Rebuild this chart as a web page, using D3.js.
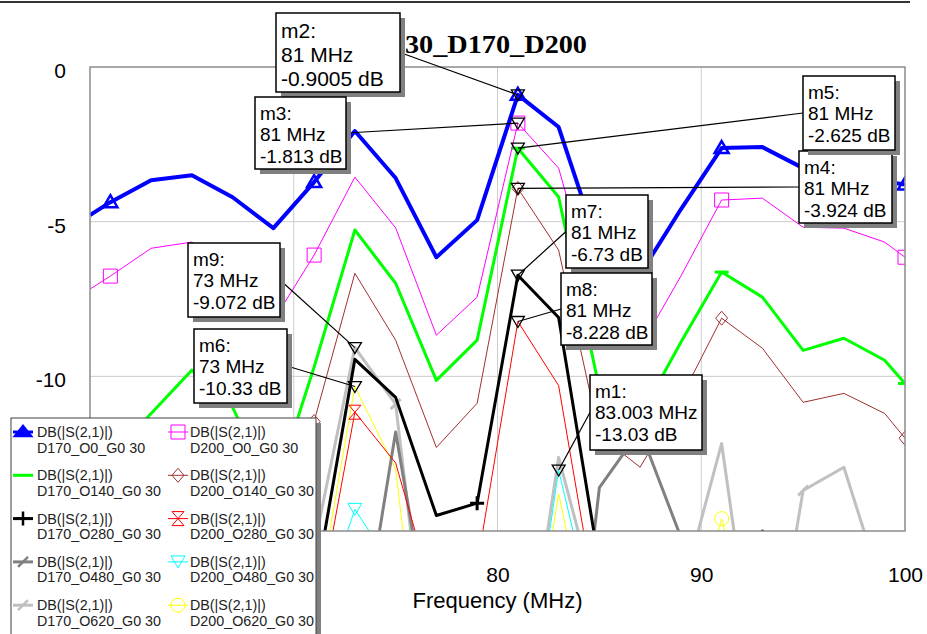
<!DOCTYPE html>
<html>
<head>
<meta charset="utf-8">
<script src="https://cdn.jsdelivr.net/npm/d3@7"></script>
<style>
  body { margin: 0; background: #fff; }
  text { font-family: "Liberation Sans", Arial, sans-serif; }
</style>
</head>
<body>
<svg width="927" height="634"></svg>
<script>
// sweep points (MHz), edge points at 60 and 100 read where the traces meet the frame
const freqs = [60, 61, 63, 65, 67, 69, 71, 73, 75, 77, 79, 81, 83, 85, 87, 89, 91, 93, 95, 97, 99, 100];

const d170_o0   = [-4.79, -4.37, -3.66, -3.50, -4.21, -5.21, -3.72, -2.07, -3.59, -6.15, -4.95, -0.90, -1.94, -5.9, -6.7, -4.6, -2.62, -2.59, -3.27, -3.45, -3.7, -3.8];
const d200_o0   = [-7.18, -6.76, -5.86, -5.66, -6.6, -8.2, -6.08, -3.56, -5.2, -8.67, -7.44, -1.813, -3.27, -7.9, -9.06, -6.76, -4.30, -4.24, -5.18, -5.21, -5.66, -6.15];
const d170_o140 = [-13.0, -12.6, -11.2, -9.8, -11.0, -13.8, -9.7, -5.27, -6.99, -10.13, -8.83, -2.625, -4.2, -10.4, -11.3, -8.9, -6.63, -7.44, -9.16, -8.77, -9.48, -10.23];
const d200_o140 = [-13.2, -13.0, -12.5, -12.0, -12.5, -13.5, -11.46, -6.67, -8.83, -12.3, -10.87, -3.924, -5.92, -11.9, -12.94, -10.7, -8.12, -9.09, -10.84, -10.55, -11.2, -12.0];
const d170_o280 = [-16.0, -15.5, -14.0, -13.5, -14.5, -16.0, -17.0, -9.45, -10.68, -14.5, -14.1, -6.73, -8.1, -16.1, -17.0, -17.5, -16.5, -15.0, -16.5, -17.0, -17.0, -17.2];
const d200_o280 = [-16.0, -16.0, -15.5, -14.5, -15.0, -16.0, -18.3, -11.16, -12.8, -17.4, -16.1, -8.228, -10.3, -18.0, -17.0, -17.5, -18.0, -17.5, -18.5, -18.0, -18.5, -18.6];
const d170_o480 = [-17.0, -17.5, -16.0, -15.5, -17.0, -18.0, -17.5, -19.9, -11.8, -19.5, -20.5, -21.0, -25.0, -13.6, -11.75, -15.2, -18.0, -19.0, -18.5, -18.0, -19.5, -19.6];
const d200_o480 = [-18.0, -18.5, -17.0, -16.5, -17.5, -19.0, -18.2, -14.3, -16.3, -19.0, -20.0, -22.0, -13.03, -18.6, -19.5, -18.0, -19.0, -20.0, -18.5, -19.0, -20.0, -20.2];
const d170_o620 = [-17.5, -17.0, -16.5, -16.0, -17.0, -18.5, -15.5, -9.07, -10.9, -22.0, -20.0, -21.4, -12.62, -17.6, -20.0, -17.1, -12.17, -21.5, -13.69, -12.94, -17.1, -19.0];
const d200_o620 = [-18.5, -18.0, -17.5, -17.0, -18.0, -19.0, -17.9, -10.33, -13.0, -24.0, -22.0, -22.0, -13.8, -19.9, -21.0, -20.0, -14.6, -20.0, -21.0, -20.5, -21.0, -21.2];

const traceNames = ["D170_O0_G0 30", "D200_O0_G0 30", "D170_O140_G0 30", "D200_O140_G0 30",
  "D170_O280_G0 30", "D200_O280_G0 30", "D170_O480_G0 30", "D200_O480_G0 30",
  "D170_O620_G0 30", "D200_O620_G0 30"];
const traceValues = [d170_o0, d200_o0, d170_o140, d200_o140, d170_o280, d200_o280, d170_o480, d200_o480, d170_o620, d200_o620];

// grid lines and the tick labels that are not covered by the legend
const xGrid = [70, 80, 90];
const yGrid = [-5, -10];
const xTickLabels = [80, 90, 100];
const yTickLabels = [0, -5, -10];

const markerNames  = ["m1", "m2", "m3", "m4", "m5", "m6", "m7", "m8", "m9"];
const markerFreqs  = [83.003, 81, 81, 81, 81, 73, 81, 81, 73];
const markerValues = [-13.03, -0.9005, -1.813, -3.924, -2.625, -10.33, -6.73, -8.228, -9.072];
const markerFreqText = ["83.003 MHz", "81 MHz", "81 MHz", "81 MHz", "81 MHz", "73 MHz", "81 MHz", "81 MHz", "73 MHz"];

// look of each trace
const styles = [
  {color: "#0000ff", width: 4, sym: "triUp",     symAt: [61, 71, 81, 91, 100], symW: 2.5},
  {color: "#ff00ff", width: 1, sym: "square",    symAt: [61, 71, 81, 91, 100], symW: 1},
  {color: "#00ff00", width: 3, sym: "dash",      symAt: [81, 91, 100],         symW: 3},
  {color: "#a03030", width: 1, sym: "diamond",   symAt: [61, 71, 81, 91, 100], symW: 1},
  {color: "#000000", width: 3, sym: "plus",      symAt: [69, 79, 89, 99],      symW: 3},
  {color: "#ff0000", width: 1, sym: "hourglass", symAt: [63, 73],              symW: 1},
  {color: "#808080", width: 3, sym: "slash",     symAt: [67, 77, 87, 97],      symW: 3},
  {color: "#00ffff", width: 1, sym: "triDown",   symAt: [63, 73],              symW: 1},
  {color: "#c0c0c0", width: 3, sym: "slash",     symAt: [65, 75, 85, 95],      symW: 3},
  {color: "#ffff00", width: 1, sym: "circle",    symAt: [61, 71, 81, 91],      symW: 1}
];

// marker box layout: x, y, w, h, font size, leader side
const boxes = {
  m1: [590, 375, 112, 75, 19, "left"],
  m2: [276, 13, 124, 79, 21, "right"],
  m3: [255, 97, 91, 72, 19, "right"],
  m4: [799, 151, 93, 72, 19, "left"],
  m5: [803, 76, 92, 74, 19, "left"],
  m6: [194, 329, 93, 74, 19, "right"],
  m7: [566, 195, 82, 73, 19, "left"],
  m8: [561, 273, 91, 72, 19, "left"],
  m9: [188, 243, 92, 74, 19, "right"]
};

const symPaths = {
  triUp: "M0,-7L7,5L-7,5Z",
  triDown: "M-7,-6L7,-6L0,6Z",
  square: "M-7,-7h14v14h-14Z",
  diamond: "M0,-7L6,0L0,7L-6,0Z",
  plus: "M-7,0H7M0,-7V7",
  hourglass: "M-6,-7L6,-7L-6,7L6,7Z",
  slash: "M-5,5L5,-5",
  circle: "M-7,0A7,7 0 1,0 7,0A7,7 0 1,0 -7,0",
  dash: "M-7,0H7"
};

const svg = d3.select("svg");
const plot = {left: 90, right: 905, top: 67, bottom: 531};

const x = d3.scaleLinear().domain([60, 100]).range([plot.left, plot.right]);
const y = d3.scaleLinear().domain([-15, 0]).range([plot.bottom, plot.top]);

// window edge line at the very top
svg.append("line").attr("x1", 0).attr("x2", 910).attr("y1", 2).attr("y2", 2)
  .attr("stroke", "#333").attr("stroke-width", 2);

svg.append("defs").append("clipPath").attr("id", "clip")
  .append("rect").attr("x", plot.left).attr("y", plot.top)
  .attr("width", plot.right - plot.left).attr("height", plot.bottom - plot.top);

// grid
const grid = svg.append("g");
grid.selectAll("line.vx").data(xGrid).enter().append("line")
  .attr("x1", d => x(d)).attr("x2", d => x(d))
  .attr("y1", plot.top).attr("y2", plot.bottom)
  .attr("stroke", "#cccccc").attr("stroke-width", 1);
grid.selectAll("line.hy").data(yGrid).enter().append("line")
  .attr("x1", plot.left).attr("x2", plot.right)
  .attr("y1", d => y(d)).attr("y2", d => y(d))
  .attr("stroke", "#cccccc").attr("stroke-width", 1);

// axes labels
const xAxis = svg.append("g")
  .attr("transform", `translate(0,${plot.bottom})`)
  .call(d3.axisBottom(x).tickValues(xTickLabels).tickSize(0).tickPadding(0).tickFormat(d => String(d)));
xAxis.select(".domain").remove();
xAxis.selectAll("text").attr("dy", 0).attr("y", 51)
  .style("font-size", "21px").attr("fill", "#000")
  .style("font-family", "'Liberation Sans', Arial, sans-serif");

const yAxis = svg.append("g")
  .attr("transform", "translate(66,0)")
  .call(d3.axisLeft(y).tickValues(yTickLabels).tickSize(0).tickPadding(0).tickFormat(d => String(d)));
yAxis.select(".domain").remove();
yAxis.selectAll("text").attr("dy", "0.35em").attr("y", 3)
  .style("font-size", "21px").attr("fill", "#000")
  .style("font-family", "'Liberation Sans', Arial, sans-serif");

svg.append("text")
  .attr("x", x(80)).attr("y", 608)
  .attr("text-anchor", "middle")
  .style("font-size", "22px")
  .text("Frequency (MHz)");

// title, partly hidden behind m2
svg.append("text")
  .attr("x", 405).attr("y", 53)
  .attr("textLength", 182).attr("lengthAdjust", "spacingAndGlyphs")
  .style("font-family", "'Liberation Serif', 'Times New Roman', serif")
  .style("font-weight", "bold").style("font-size", "26px")
  .text("30_D170_D200");

// traces, first one on top
const traces = svg.append("g").attr("clip-path", "url(#clip)");
const line = d3.line().x(d => x(d[0])).y(d => y(d[1]));

d3.range(traceValues.length).reverse().forEach(i => {
  const st = styles[i];
  const pts = freqs.map((f, k) => [f, traceValues[i][k]]);
  traces.append("path")
    .datum(pts)
    .attr("d", line)
    .attr("fill", "none")
    .attr("stroke", st.color)
    .attr("stroke-width", st.width)
    .attr("stroke-linejoin", "round");
  traces.selectAll(null)
    .data(pts.filter(p => st.symAt.includes(p[0])))
    .enter().append("path")
    .attr("transform", p => `translate(${x(p[0])},${y(p[1])})`)
    .attr("d", symPaths[st.sym])
    .attr("fill", "none")
    .attr("stroke", st.color)
    .attr("stroke-width", st.symW);
});

// frame
svg.append("path")
  .attr("d", `M${plot.left},${plot.bottom}V${plot.top}H${plot.right}V${plot.bottom}Z`)
  .attr("fill", "none").attr("stroke", "#8c8c8c").attr("stroke-width", 1.5);

// markers: symbol, leader, box
const mk = svg.append("g");
markerNames.forEach((name, i) => {
  const px = x(markerFreqs[i]), py = y(markerValues[i]);
  const [bx, by, bw, bh, fs, side] = boxes[name];
  const ax = side === "left" ? bx : bx + bw;
  const ay = by + bh / 2;
  mk.append("line").attr("x1", ax).attr("y1", ay).attr("x2", px).attr("y2", py)
    .attr("stroke", "#000").attr("stroke-width", 1.2);
  mk.append("path").attr("transform", `translate(${px},${py})`)
    .attr("d", "M-6.5,-5L6.5,-5L0,6Z")
    .attr("fill", "none").attr("stroke", "#000").attr("stroke-width", 1.3);
});
markerNames.forEach((name, i) => {
  const [bx, by, bw, bh, fs] = boxes[name];
  mk.append("rect").attr("x", bx + 5).attr("y", by + 5).attr("width", bw).attr("height", bh)
    .attr("fill", "#808080");
  mk.append("rect").attr("x", bx).attr("y", by).attr("width", bw).attr("height", bh)
    .attr("fill", "#fff").attr("stroke", "#000").attr("stroke-width", 1.5);
  const lh = fs * 1.13;
  [name + ":", markerFreqText[i], `${markerValues[i]} dB`].forEach((t, k) => {
    mk.append("text")
      .attr("x", bx + 5).attr("y", by + fs * 1.2 + k * lh)
      .style("font-size", fs + "px")
      .text(t);
  });
});

// legend
const lg = svg.append("g");
lg.append("rect").attr("x", 16).attr("y", 423).attr("width", 305).attr("height", 230).attr("fill", "#808080");
lg.append("rect").attr("x", 11).attr("y", 418).attr("width", 305).attr("height", 230)
  .attr("fill", "#fff").attr("stroke", "#404040").attr("stroke-width", 1);

traceNames.forEach((name, i) => {
  const st = styles[i];
  const col = i % 2, row = Math.floor(i / 2);
  const sx = col === 0 ? 13 : 168;
  const tx = col === 0 ? 37 : 190;
  const ly = 432 + row * 43.3;
  lg.append("line").attr("x1", sx).attr("x2", sx + 20).attr("y1", ly).attr("y2", ly)
    .attr("stroke", st.color).attr("stroke-width", st.width === 4 ? 3 : st.width);
  if (st.sym !== "dash") {
    const sp = lg.append("path")
      .attr("transform", `translate(${sx + 10},${ly})`)
      .attr("d", symPaths[st.sym])
      .attr("fill", st.sym === "triUp" ? st.color : "none")
      .attr("stroke", st.color)
      .attr("stroke-width", st.width > 1 ? 2.5 : 1);
    if (st.sym === "triUp") sp.attr("d", "M0,-6L8,4L-8,4Z");
  }
  lg.append("text").attr("x", tx).attr("y", ly + 5)
    .style("font-size", "14.3px").attr("fill", "#222").text("DB(|S(2,1)|)");
  lg.append("text").attr("x", tx).attr("y", ly + 20.5)
    .style("font-size", "14.3px").attr("fill", "#222").text(name);
});
</script>
</body>
</html>
